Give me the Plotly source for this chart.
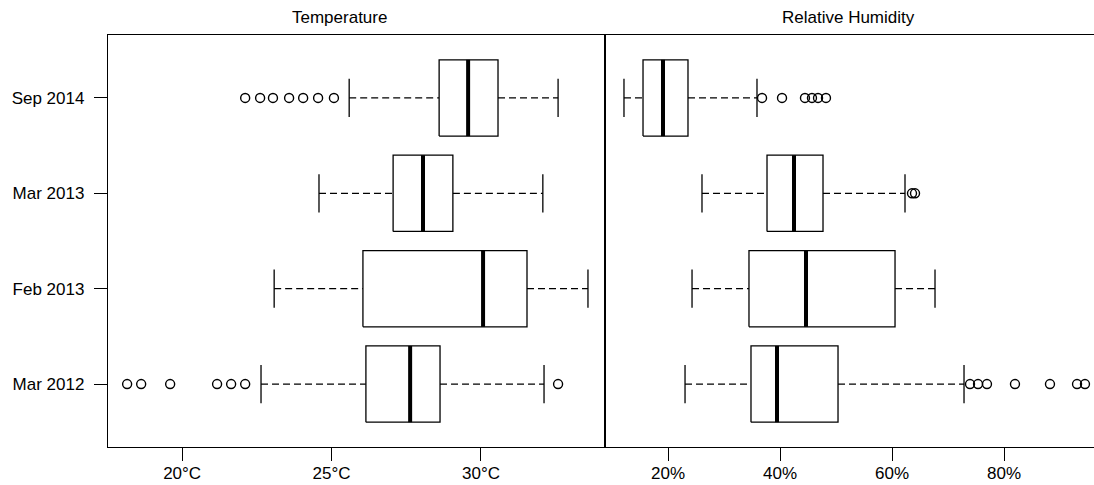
import plotly.graph_objects as go
from plotly.subplots import make_subplots

categories = ["Mar 2012", "Feb 2013", "Mar 2013", "Sep 2014"]

# Temperature (°C) five-number summaries per category
temp_low = [22.64, 23.08, 24.58, 25.59]
temp_q1 = [26.15, 26.05, 27.06, 28.60]
temp_med = [27.63, 30.07, 28.06, 29.57]
temp_q3 = [28.63, 31.54, 29.06, 30.57]
temp_high = [32.11, 33.58, 32.07, 32.58]
temp_out = [
    [18.16, 18.63, 19.60, 21.17, 21.64, 22.11, 32.58],
    [],
    [],
    [22.11, 22.61, 23.04, 23.58, 24.05, 24.55, 25.08],
]

# Relative humidity (%) five-number summaries per category
hum_low = [23.04, 24.29, 26.07, 12.14]
hum_q1 = [34.82, 34.46, 37.68, 15.54]
hum_med = [39.46, 44.64, 42.50, 19.11]
hum_q3 = [50.36, 60.54, 47.68, 23.57]
hum_high = [72.86, 67.68, 62.32, 35.89]
hum_out = [
    [73.93, 75.36, 76.96, 81.96, 88.21, 93.04, 94.46],
    [],
    [63.57, 64.11],
    [36.79, 40.36, 44.46, 45.71, 46.79, 48.21],
]

temp_ticks = [20, 25, 30]
temp_ticktext = ["20°C", "25°C", "30°C"]
hum_ticks = [20, 40, 60, 80]
hum_ticktext = ["20%", "40%", "60%", "80%"]

panel_titles = ["Temperature", "Relative Humidity"]

FONT = "Liberation Sans, Arial, sans-serif"
HALF = 0.4      # half box width (category units)
STAPLE = 0.2    # half staple length
LW = 1.3

fig = make_subplots(rows=1, cols=2, shared_yaxes=True, horizontal_spacing=0)


def add_panel(col, low, q1, med, q3, high, outs):
    pos = list(range(1, len(categories) + 1))
    bx, by, mx, my, wx, wy, sx, sy, ox, oy = ([] for _ in range(10))
    for p, l, a, m, b, h, o in zip(pos, low, q1, med, q3, high, outs):
        bx += [a, b, b, a, a, None]
        by += [p - HALF, p - HALF, p + HALF, p + HALF, p - HALF, None]
        mx += [m, m, None]
        my += [p - HALF, p + HALF, None]
        wx += [l, a, None, b, h, None]
        wy += [p, p, None, p, p, None]
        sx += [l, l, None, h, h, None]
        sy += [p - STAPLE, p + STAPLE, None, p - STAPLE, p + STAPLE, None]
        ox += o
        oy += [p] * len(o)
    fig.add_trace(go.Scatter(x=wx, y=wy, mode="lines",
                             line=dict(color="black", width=LW, dash="7px,4px"),
                             hoverinfo="skip", showlegend=False), row=1, col=col)
    fig.add_trace(go.Scatter(x=sx, y=sy, mode="lines",
                             line=dict(color="black", width=LW),
                             hoverinfo="skip", showlegend=False), row=1, col=col)
    fig.add_trace(go.Scatter(x=bx, y=by, mode="lines", fill="toself",
                             fillcolor="white",
                             line=dict(color="black", width=LW),
                             hoverinfo="skip", showlegend=False), row=1, col=col)
    fig.add_trace(go.Scatter(x=mx, y=my, mode="lines",
                             line=dict(color="black", width=4),
                             hoverinfo="skip", showlegend=False), row=1, col=col)
    fig.add_trace(go.Scatter(x=ox, y=oy, mode="markers",
                             marker=dict(symbol="circle-open", size=9,
                                         color="black", line=dict(width=1.4)),
                             showlegend=False), row=1, col=col)


add_panel(1, temp_low, temp_q1, temp_med, temp_q3, temp_high, temp_out)
add_panel(2, hum_low, hum_q1, hum_med, hum_q3, hum_high, hum_out)

split = 497 / 986
axis_common = dict(showgrid=False, zeroline=False, showline=True,
                   linecolor="black", linewidth=LW, ticks="outside",
                   ticklen=13, tickwidth=LW, tickcolor="black",
                   tickfont=dict(family=FONT, size=17, color="black"))

fig.update_xaxes(range=[17.52, 34.15], tickvals=temp_ticks,
                 ticktext=temp_ticktext, domain=[0, split], mirror=True,
                 ticklabelstandoff=-3, row=1, col=1, **axis_common)
fig.update_xaxes(range=[8.75, 96.07], tickvals=hum_ticks,
                 ticktext=hum_ticktext, domain=[split, 1], mirror=True,
                 ticklabelstandoff=-3, row=1, col=2, **axis_common)
fig.update_yaxes(range=[0.34, 4.66], tickvals=list(range(1, 5)),
                 ticktext=categories, mirror=True, row=1, col=1,
                 ticklabelstandoff=6, **axis_common)
fig.update_yaxes(range=[0.34, 4.66], showticklabels=False, ticks="",
                 showline=True, linecolor="black", linewidth=LW,
                 showgrid=False, zeroline=False, mirror=False,
                 row=1, col=2)

fig.add_annotation(text=panel_titles[0], xref="paper", yref="paper",
                   x=(339 - 108) / 986, y=1 + (35 - 17) / 412.5,
                   xanchor="center", yanchor="middle", showarrow=False,
                   font=dict(family=FONT, size=17, color="black"))
fig.add_annotation(text=panel_titles[1], xref="paper", yref="paper",
                   x=(848 - 108) / 986, y=1 + (35 - 17) / 412.5,
                   xanchor="center", yanchor="middle", showarrow=False,
                   font=dict(family=FONT, size=17, color="black"))

fig.update_layout(width=1094, height=485,
                  margin=dict(l=108, r=0, t=35, b=37.5),
                  plot_bgcolor="white", paper_bgcolor="white")

fig.write_html("out.html", config={"displayModeBar": False},
               post_script="document.body.style.margin='0';"
                           "document.body.style.overflow='hidden';")
